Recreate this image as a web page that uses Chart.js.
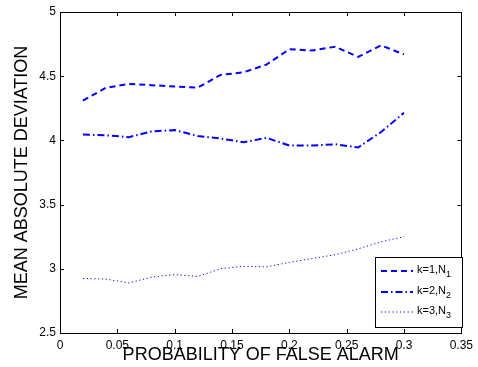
<!DOCTYPE html>
<html><head><meta charset="utf-8">
<script src="https://cdn.jsdelivr.net/npm/chart.js@4/dist/chart.umd.min.js"></script>
<style>html,body{margin:0;padding:0;background:#fff}#wrap{width:478px;height:367px}</style>
</head><body><div id="wrap"><canvas id="c" width="478" height="367"></canvas></div>
<script>
const pfa = [0.02,0.04,0.06,0.08,0.10,0.12,0.14,0.16,0.18,0.20,0.22,0.24,0.26,0.28,0.30];
const madK1 = [4.31,4.41,4.44,4.43,4.42,4.41,4.51,4.53,4.59,4.71,4.70,4.73,4.65,4.74,4.67];
const madK2 = [4.045,4.04,4.025,4.07,4.08,4.035,4.015,3.985,4.02,3.96,3.96,3.97,3.945,4.065,4.215];
const madK3 = [2.925,2.92,2.89,2.935,2.955,2.94,3.0,3.02,3.015,3.05,3.08,3.11,3.155,3.21,3.25];
const xTicks = [0,0.05,0.1,0.15,0.2,0.25,0.3,0.35];
const yTicks = [2.5,3,3.5,4,4.5,5];
const seriesNames = [["k=1,N","1"],["k=2,N","2"],["k=3,N","3"]];

const FONT = "'Liberation Sans', Arial, Helvetica, sans-serif";
const pts = arr => pfa.map((x,i)=>({x:x,y:arr[i]}));
const dashes = [[6,4],[7,3,1.5,3],[1.2,2.6]];
const widths = [2,2,1];

const frame = {
  id:'frame',
  afterDraw(chart){
    const {ctx, chartArea:a, scales:{x, y}} = chart;
    ctx.save();
    ctx.strokeStyle='#000'; ctx.lineWidth=1; ctx.setLineDash([]);
    ctx.strokeRect(Math.round(a.left)+0.5, Math.round(a.top)+0.5, Math.round(a.right-a.left), Math.round(a.bottom-a.top));
    const L=4;
    ctx.beginPath();
    xTicks.forEach(v=>{const px=Math.round(x.getPixelForValue(v))+0.5;
      ctx.moveTo(px,a.bottom);ctx.lineTo(px,a.bottom-L);
      ctx.moveTo(px,a.top);ctx.lineTo(px,a.top+L);});
    yTicks.forEach(v=>{const py=Math.round(y.getPixelForValue(v))+0.5;
      ctx.moveTo(a.left,py);ctx.lineTo(a.left+L,py);
      ctx.moveTo(a.right,py);ctx.lineTo(a.right-L,py);});
    ctx.stroke();
    // legend
    const lx=375, ly=257, lw=87, lh=70;
    ctx.fillStyle='#fff'; ctx.fillRect(lx,ly,lw,lh);
    ctx.strokeRect(lx+0.5,ly+0.5,lw,lh);
    const rows=[270,291,311];
    rows.forEach((ry,i)=>{
      ctx.save();
      ctx.strokeStyle='#0000ff'; ctx.lineWidth=widths[i]; ctx.setLineDash(dashes[i]);
      ctx.beginPath(); ctx.moveTo(381,ry+1); ctx.lineTo(413,ry+1); ctx.stroke();
      ctx.restore();
      ctx.fillStyle='#000'; ctx.textBaseline='middle'; ctx.textAlign='left';
      ctx.font='11px '+FONT;
      ctx.fillText(seriesNames[i][0],417,ry);
      const w=ctx.measureText(seriesNames[i][0]).width;
      ctx.font='9px '+FONT;
      ctx.fillText(seriesNames[i][1],417+w,ry+5);
    });
    ctx.restore();
  }
};

new Chart(document.getElementById('c'),{
  type:'line',
  data:{datasets:[madK1,madK2,madK3].map((arr,i)=>({
    label:seriesNames[i].join(''), data:pts(arr), borderColor:'#0000ff',
    borderWidth:widths[i], borderDash:dashes[i], pointRadius:0, tension:0, fill:false
  }))},
  options:{
    responsive:false, animation:false, devicePixelRatio:1,
    layout:{padding:{top:12,right:11,left:0,bottom:0}},
    plugins:{legend:{display:false},tooltip:{enabled:false}},
    scales:{
      x:{type:'linear',min:0,max:0.35,
        afterBuildTicks(s){s.ticks=xTicks.map(v=>({value:v}));},
        afterFit(s){s.height=34;},
        grid:{display:false,drawTicks:false},border:{display:false},
        ticks:{padding:5,color:'#000',font:{family:FONT,size:12},maxRotation:0,autoSkip:false,callback:v=>String(v)},
        title:{display:true,text:'PROBABILITY OF FALSE ALARM',color:'#000',font:{family:FONT,size:18},padding:{top:0,bottom:1}}
      },
      y:{min:2.5,max:5,
        afterBuildTicks(s){s.ticks=yTicks.map(v=>({value:v}));},
        afterFit(s){s.width=60;},
        grid:{display:false,drawTicks:false},border:{display:false},
        ticks:{padding:4,color:'#000',font:{family:FONT,size:12},autoSkip:false,callback:v=>String(v)},
        title:{display:true,text:'MEAN ABSOLUTE DEVIATION',color:'#000',font:{family:FONT,size:18},padding:{top:11,bottom:0}}
      }
    }
  },
  plugins:[frame]
});
</script></body></html>
